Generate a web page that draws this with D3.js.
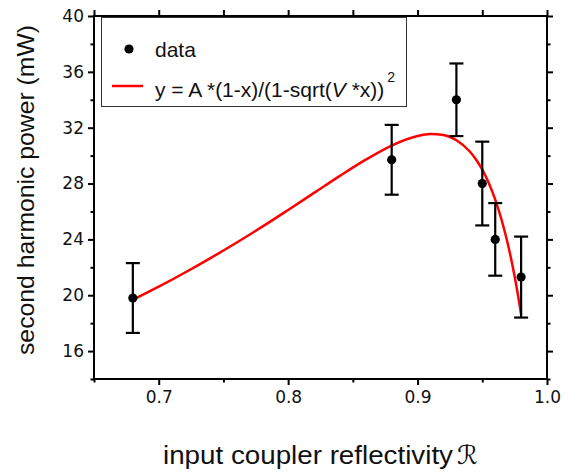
<!DOCTYPE html>
<html>
<head>
<meta charset="utf-8">
<script src="https://cdn.jsdelivr.net/npm/d3@7"></script>
<style>
  html, body { margin: 0; padding: 0; background: #fff; }
  svg { display: block; }
</style>
</head>
<body>
<div id="chart"></div>
<script>
// Measured second harmonic power versus input coupler reflectivity
const reflectivity = [0.68, 0.88, 0.93, 0.95, 0.96, 0.98];
const power        = [19.8, 29.7, 34.0, 28.0, 24.0, 21.3];
const powerErr     = [2.5, 2.5, 2.6, 3.0, 2.6, 2.9];

// Fitted curve y = A(1-x)/(1-sqrt(Vx))^2, tabulated
const fitX = [0.68, 0.70, 0.72, 0.74, 0.76, 0.78, 0.80, 0.82, 0.84, 0.86, 0.88, 0.90, 0.91,
              0.92, 0.93, 0.94, 0.945, 0.95, 0.955, 0.96, 0.965, 0.97, 0.9725, 0.975, 0.9775, 0.98];
const fitY = [19.67, 20.61, 21.61, 22.66, 23.76, 24.91, 26.11, 27.33, 28.55, 29.71, 30.72, 31.40, 31.54,
              31.47, 31.10, 30.33, 29.74, 28.99, 28.04, 26.85, 25.37, 23.56, 22.51, 21.34, 20.05, 18.62];

// Axis ticks
const xMajor = [0.7, 0.8, 0.9, 1.0];
const xMinor = [0.65, 0.75, 0.85, 0.95];
const yMajor = [16, 20, 24, 28, 32, 36, 40];
const yMinor = [14, 18, 22, 26, 30, 34, 38];

const W = 568, H = 473;
const margin = { left: 94, top: 16, right: 21, bottom: 94 };
const iw = W - margin.left - margin.right;
const ih = H - margin.top - margin.bottom;

const svg = d3.select("#chart").append("svg")
  .attr("width", W).attr("height", H);

const g = svg.append("g").attr("transform", `translate(${margin.left},${margin.top})`);

const x = d3.scaleLinear().domain([0.65, 1.0]).range([0, iw]);
const y = d3.scaleLinear().domain([14, 40]).range([ih, 0]);

const tickFont = "'DejaVu Sans', sans-serif";
const textFont = "'Liberation Sans', Arial, sans-serif";
const MAJ = 6, MIN = 3.5;

function styleAxis(sel) {
  sel.select(".domain").remove();
  sel.selectAll(".tick line").attr("stroke", "#000").attr("stroke-width", 2);
  sel.selectAll("text").attr("font-family", tickFont).attr("font-size", 17).attr("fill", "#111");
}

// Bottom axis
g.append("g").attr("transform", `translate(0,${ih})`)
  .call(d3.axisBottom(x).tickValues(xMajor).tickSize(MAJ).tickPadding(6).tickFormat(d3.format(".1f")))
  .call(styleAxis);
g.append("g").attr("transform", `translate(0,${ih})`)
  .call(d3.axisBottom(x).tickValues(xMinor).tickSize(MIN).tickFormat(""))
  .call(styleAxis);
// Top axis
g.append("g")
  .call(d3.axisTop(x).tickValues(xMajor.concat(xMinor)).tickSize(MAJ).tickFormat(""))
  .call(styleAxis);
// Left axis
g.append("g")
  .call(d3.axisLeft(y).tickValues(yMajor).tickSize(MAJ).tickPadding(4).tickFormat(d3.format("d")))
  .call(styleAxis);
g.append("g")
  .call(d3.axisLeft(y).tickValues(yMinor).tickSize(MIN).tickFormat(""))
  .call(styleAxis);
// Right axis
g.append("g").attr("transform", `translate(${iw},0)`)
  .call(d3.axisRight(y).tickValues(yMajor).tickSize(MAJ).tickFormat(""))
  .call(styleAxis);
g.append("g").attr("transform", `translate(${iw},0)`)
  .call(d3.axisRight(y).tickValues(yMinor).tickSize(MIN).tickFormat(""))
  .call(styleAxis);

// Frame
g.append("rect").attr("x", 0).attr("y", 0).attr("width", iw).attr("height", ih)
  .attr("fill", "none").attr("stroke", "#000").attr("stroke-width", 2);

// Fit curve
const fitData = fitX.map((v, i) => [v, fitY[i]]);
g.append("path").datum(fitData)
  .attr("fill", "none").attr("stroke", "#ff0000").attr("stroke-width", 2.5)
  .attr("d", d3.line().x(d => x(d[0])).y(d => y(d[1])).curve(d3.curveMonotoneX));

// Error bars and points
const pts = reflectivity.map((v, i) => ({ x: v, y: power[i], e: powerErr[i] }));
const cap = 7;
const eb = g.append("g").attr("stroke", "#000").attr("stroke-width", 2.2);
pts.forEach(p => {
  const cx = x(p.x), yt = y(p.y + p.e), yb = y(p.y - p.e);
  eb.append("line").attr("x1", cx).attr("x2", cx).attr("y1", yt).attr("y2", yb);
  eb.append("line").attr("x1", cx - cap).attr("x2", cx + cap).attr("y1", yt).attr("y2", yt);
  eb.append("line").attr("x1", cx - cap).attr("x2", cx + cap).attr("y1", yb).attr("y2", yb);
});
g.append("g").selectAll("circle").data(pts).join("circle")
  .attr("cx", d => x(d.x)).attr("cy", d => y(d.y)).attr("r", 4.6).attr("fill", "#000");

// Legend
const lg = svg.append("g");
lg.append("rect").attr("x", 101.5).attr("y", 17.5).attr("width", 305).attr("height", 89)
  .attr("fill", "#fff").attr("stroke", "#333").attr("stroke-width", 1);
lg.append("circle").attr("cx", 129).attr("cy", 49).attr("r", 4.6).attr("fill", "#000");
lg.append("text").attr("x", 155).attr("y", 57)
  .attr("font-family", textFont).attr("font-size", 21).attr("fill", "#111")
  .text("data");
lg.append("line").attr("x1", 112).attr("x2", 143).attr("y1", 86).attr("y2", 86)
  .attr("stroke", "#ff0000").attr("stroke-width", 2.5);
const ft = lg.append("text").attr("x", 155).attr("y", 97)
  .attr("font-family", textFont).attr("font-size", 21).attr("fill", "#111");
ft.append("tspan").text("y = A *(1-x)/(1-sqrt(");
ft.append("tspan").attr("font-style", "italic").text("V");
ft.append("tspan").text(" *x))");
ft.append("tspan").attr("font-size", 14).attr("dy", -15).attr("dx", 3).text("2");

// Axis titles
svg.append("text").attr("x", 163).attr("y", 464)
  .attr("font-family", textFont).attr("font-size", 25).attr("fill", "#111")
  .attr("textLength", 290).attr("lengthAdjust", "spacingAndGlyphs")
  .text("input coupler reflectivity");
svg.append("text").attr("x", 457).attr("y", 464)
  .attr("font-family", "'DejaVu Sans', sans-serif").attr("font-style", "italic")
  .attr("font-size", 26).attr("fill", "#111")
  .text("\u211B");

svg.append("text")
  .attr("transform", "translate(34,190) rotate(-90)")
  .attr("text-anchor", "middle")
  .attr("font-family", textFont).attr("font-size", 24).attr("fill", "#111")
  .attr("textLength", 330).attr("lengthAdjust", "spacingAndGlyphs")
  .text("second harmonic power (mW)");
</script>
</body>
</html>
